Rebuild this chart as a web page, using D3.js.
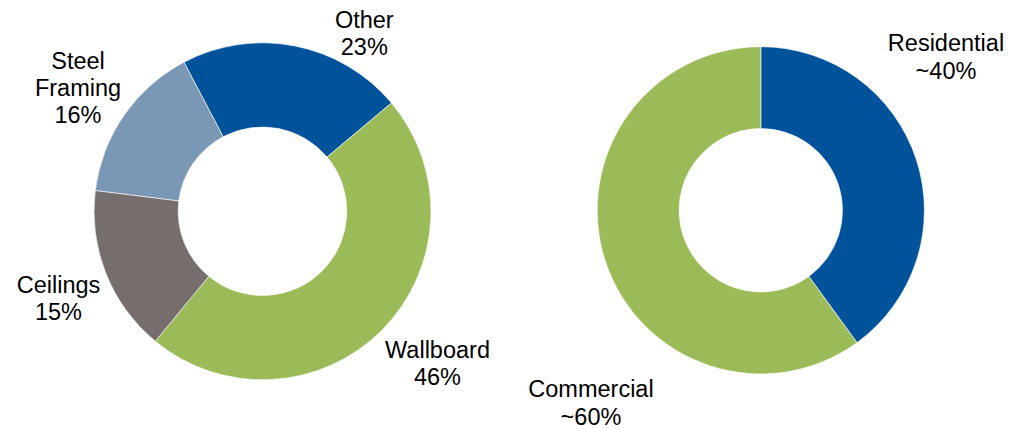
<!DOCTYPE html>
<head>
  <meta charset="utf-8">
  <script src='https://d3js.org/d3.v7.min.js'></script>
  <style>
    body { margin: 0; background: #fff; }
    .label {
      font: 23.5px "Liberation Sans", Arial, sans-serif;
      fill: #000;
    }
  </style>
</head>
<body>
<script>
// left donut: product mix (slice shares as drawn, labels as printed)
var productNames = ['Other', 'Wallboard', 'Ceilings', 'Steel Framing'];
var productShares = [21.6, 47.1, 16.0, 15.3];
var productLabels = [['Other', '23%'], ['Wallboard', '46%'], ['Ceilings', '15%'], ['Steel', 'Framing', '16%']];
var productColors = ['#00539b', '#9bbb59', '#766e6c', '#7a98b5'];

// right donut: end market
var marketNames = ['Residential', 'Commercial'];
var marketShares = [40, 60];
var marketLabels = [['Residential', '~40%'], ['Commercial', '~60%']];
var marketColors = ['#00539b', '#9bbb59'];

var width = 1019
var height = 429

var svg = d3.select("body").append("svg")
  .attr("width", width)
  .attr("height", height);

var deg = Math.PI / 180;

function drawDonut(cfg) {
  var g = svg.append("g")
    .attr("transform", "translate(" + cfg.cx + "," + cfg.cy + ")");

  var pie = d3.pie()
    .sort(null)
    .value(function(d) { return d.value; })
    .startAngle(cfg.start * deg)
    .endAngle(cfg.start * deg + 2 * Math.PI);

  var arc = d3.arc()
    .innerRadius(cfg.inner)
    .outerRadius(cfg.outer);

  var data = cfg.names.map(function(n, i) {
    return { name: n, value: cfg.values[i], color: cfg.colors[i] };
  });

  g.selectAll("path")
    .data(pie(data))
    .enter()
    .append("path")
    .attr("d", arc)
    .style("fill", function(d) { return d.data.color; })
    .style("stroke", "#fff")
    .style("stroke-width", 0.6);

  // labels sit outside the ring
  cfg.labels.forEach(function(lines, i) {
    var pos = cfg.labelPos[i];
    var t = svg.append("text")
      .attr("class", "label")
      .attr("text-anchor", "middle")
      .attr("x", pos[0])
      .attr("y", pos[1]);
    lines.forEach(function(line, j) {
      t.append("tspan")
        .attr("x", pos[0])
        .attr("dy", j === 0 ? 0 : cfg.lineGap)
        .text(line);
    });
  });
}

drawDonut({
  cx: 262.5, cy: 211.3, outer: 168.5, inner: 84.3, start: -27.8,
  names: productNames, values: productShares, colors: productColors,
  labels: productLabels,
  labelPos: [[364.3, 28.3], [437.5, 358.3], [58.5, 292.7], [78, 69]],
  lineGap: 27
});

drawDonut({
  cx: 760.8, cy: 210.3, outer: 163.6, inner: 81.7, start: 0,
  names: marketNames, values: marketShares, colors: marketColors,
  labels: marketLabels,
  labelPos: [[946, 51], [591, 397.3]],
  lineGap: 27.5
});
</script>
</body>
